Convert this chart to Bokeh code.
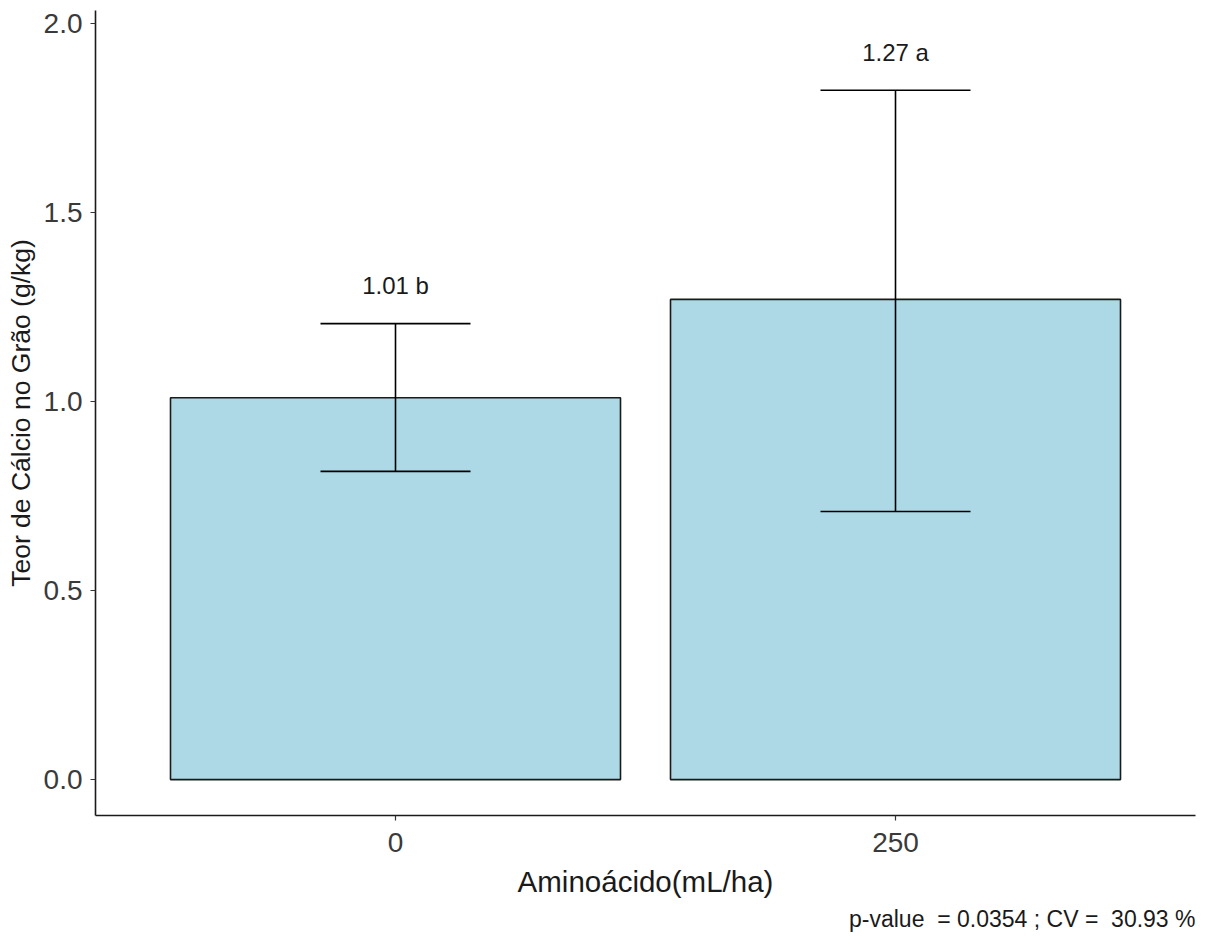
from bokeh.plotting import figure
from bokeh.models import FactorRange, Range1d, ColumnDataSource, FixedTicker, PrintfTickFormatter, Title
from bokeh.transform import dodge
from bokeh.core.properties import value
from bokeh.embed import file_html
from bokeh.resources import INLINE

categories = ["0", "250"]
means = [1.01, 1.27]
upper = [1.206, 1.823]
lower = [0.815, 0.709]
letters = ["b", "a"]
y_ticks = [0.0, 0.5, 1.0, 1.5, 2.0]
footer = "p-value\u00a0\u00a0= 0.0354 ; CV =\u00a0\u00a030.93 %"

FONT = "Liberation Sans"

labels = [f"{m:.2f} {l}" for m, l in zip(means, letters)]
label_y = [u + 0.1 for u in upper]

src = ColumnDataSource(dict(x=categories, top=means, upper=upper, lower=lower,
                            label=labels, label_y=label_y))

p = figure(width=1200, height=937, output_backend="svg", toolbar_location=None,
           x_range=FactorRange(factors=categories, range_padding=0.1),
           y_range=Range1d(-0.095, 2.034),
           min_border_left=95, min_border_right=5, min_border_top=10, min_border_bottom=122)

p.vbar(x="x", top="top", bottom=0, width=0.9, source=src,
       fill_color="#ADD8E6", line_color="#1a1a1a", line_width=1.6)

p.segment(x0="x", x1="x", y0="lower", y1="upper", source=src, line_color="black", line_width=1.6)
p.segment(x0=dodge("x", -0.15, range=p.x_range), x1=dodge("x", 0.15, range=p.x_range),
          y0="upper", y1="upper", source=src, line_color="black", line_width=1.6)
p.segment(x0=dodge("x", -0.15, range=p.x_range), x1=dodge("x", 0.15, range=p.x_range),
          y0="lower", y1="lower", source=src, line_color="black", line_width=1.6)

p.text(x="x", y="label_y", text="label", source=src, text_align="center",
       text_baseline="middle", text_font=value(FONT), text_font_size="24px",
       text_color="#1a1a1a")

p.xgrid.visible = False
p.ygrid.visible = False
p.outline_line_color = None
p.background_fill_color = "white"
p.border_fill_color = "white"

for ax in (p.xaxis[0], p.yaxis[0]):
    ax.axis_line_color = "#1a1a1a"
    ax.axis_line_width = 1.6
    ax.major_tick_line_color = "#333333"
    ax.major_tick_line_width = 1.2
    ax.major_tick_in = 0
    ax.major_tick_out = 5
    ax.minor_tick_line_color = None
    ax.major_label_text_font = FONT
    ax.major_label_text_font_size = "28px"
    ax.major_label_text_color = "#3a3a3a"
    ax.axis_label_text_font = FONT
    ax.axis_label_text_font_size = "26px"
    ax.axis_label_text_font_style = "normal"
    ax.axis_label_text_color = "#1a1a1a"

p.yaxis[0].ticker = FixedTicker(ticks=y_ticks)
p.yaxis[0].formatter = PrintfTickFormatter(format="%.1f")
p.yaxis[0].axis_label = "Teor de Cálcio no Grão (g/kg)"
p.yaxis[0].axis_label_text_font_size = "26.5px"
p.yaxis[0].major_label_standoff = 8
p.yaxis[0].axis_label_standoff = 5

p.xaxis[0].axis_label = "Aminoácido(mL/ha)"
p.xaxis[0].axis_label_text_font_size = "29.5px"
p.xaxis[0].major_label_standoff = 12
p.xaxis[0].axis_label_standoff = 10

p.add_layout(Title(text=footer, align="right", text_font=FONT, text_font_size="23px",
                   text_font_style="normal", text_color="#1a1a1a", standoff=6), "below")

open("out.html", "w").write(file_html(p, INLINE))
